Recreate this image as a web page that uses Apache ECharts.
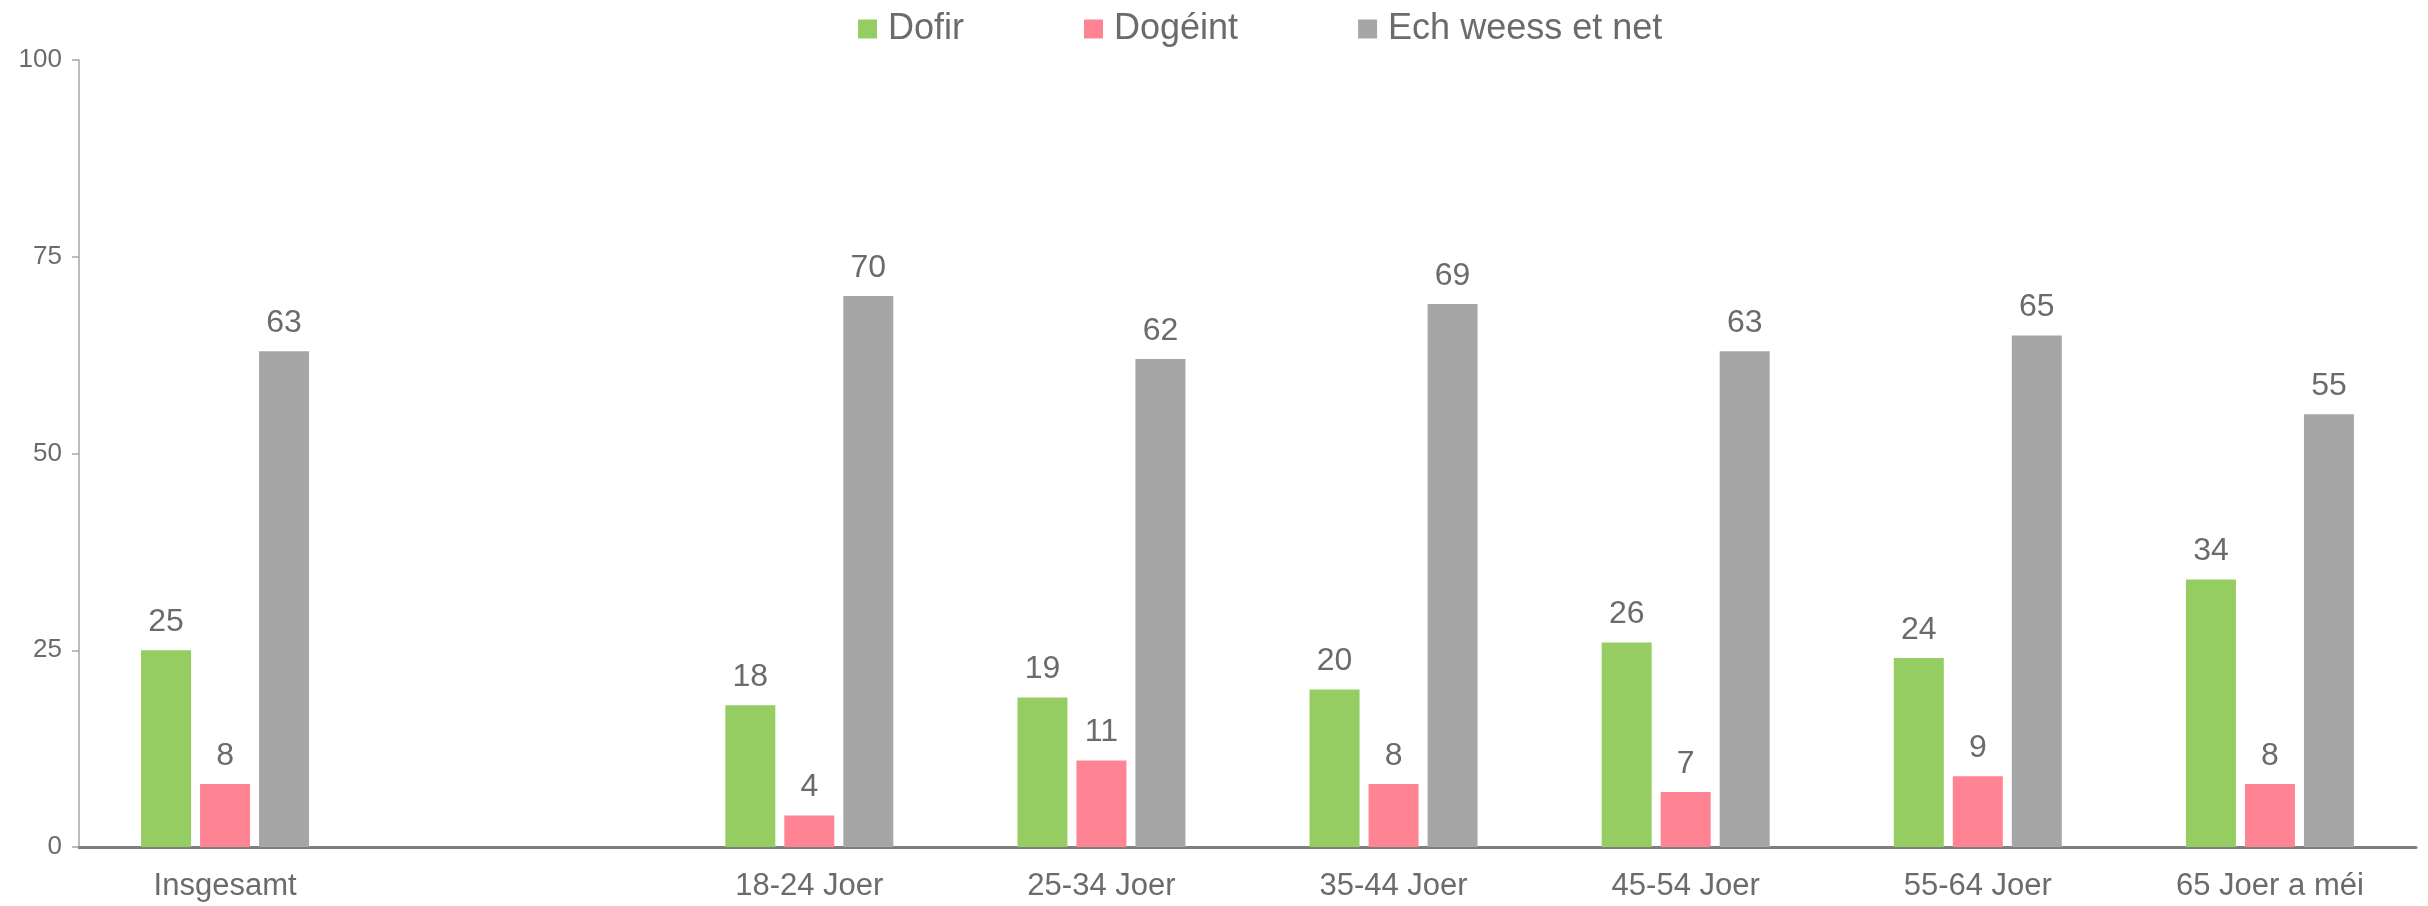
<!DOCTYPE html>
<html>
<head>
<meta charset="utf-8">
<style>
  html, body { margin: 0; padding: 0; background: #ffffff; }
  #chart { width: 2428px; height: 906px; }
</style>
<script src="https://cdn.jsdelivr.net/npm/echarts@6/dist/echarts.min.js"></script>
</head>
<body>
<div id="chart"></div>
<script>
// Age groups; the blank entry leaves a gap after the overall total
const categories = ['Insgesamt', '', '18-24 Joer', '25-34 Joer', '35-44 Joer', '45-54 Joer', '55-64 Joer', '65 Joer a méi'];
const seriesNames = ['Dofir', 'Dogéint', 'Ech weess et net'];
const dofir = [25, null, 18, 19, 20, 26, 24, 34];
const dogeint = [8, null, 4, 11, 8, 7, 9, 8];
const wees = [63, null, 70, 62, 69, 63, 65, 55];
const yTicks = [0, 25, 50, 75, 100];

const colors = ['#96CD62', '#FF8493', '#A6A6A6'];
const textColor = '#6B6B6B';
const font = '"Liberation Sans", Arial, sans-serif';

const chart = echarts.init(document.getElementById('chart'), null, { renderer: 'canvas' });

function barSeries(name, data, color) {
  return {
    name: name,
    type: 'bar',
    data: data,
    barWidth: 50,
    barGap: '18%',
    itemStyle: { color: color },
    label: {
      show: true,
      position: 'top',
      distance: 12,
      color: textColor,
      fontFamily: font,
      fontSize: 32
    }
  };
}

chart.setOption({
  animation: false,
  backgroundColor: '#ffffff',
  color: colors,
  legend: {
    data: seriesNames,
    left: 853,
    top: 6,
    itemWidth: 19,
    itemHeight: 19,
    itemGap: 120,
    icon: 'rect',
    textStyle: { color: textColor, fontFamily: font, fontSize: 36, padding: [0, 0, 0, 6] }
  },
  grid: { left: 79, right: 12, top: 60, bottom: 59, containLabel: false },
  xAxis: {
    type: 'category',
    data: categories,
    axisLine: { show: true, lineStyle: { color: '#7F7F7F', width: 3 } },
    axisTick: { show: false },
    axisLabel: { color: textColor, fontFamily: font, fontSize: 31, margin: 24, interval: 0 }
  },
  yAxis: {
    type: 'value',
    min: yTicks[0],
    max: yTicks[yTicks.length - 1],
    interval: yTicks[1] - yTicks[0],
    axisLine: { show: true, lineStyle: { color: '#A6A6A6', width: 1.5 } },
    axisTick: { show: true, length: 7, lineStyle: { color: '#A6A6A6', width: 1.5 } },
    splitLine: { show: false },
    axisLabel: { color: textColor, fontFamily: font, fontSize: 26, margin: 17 }
  },
  series: [
    barSeries(seriesNames[0], dofir, colors[0]),
    barSeries(seriesNames[1], dogeint, colors[1]),
    barSeries(seriesNames[2], wees, colors[2])
  ]
});
</script>
</body>
</html>
